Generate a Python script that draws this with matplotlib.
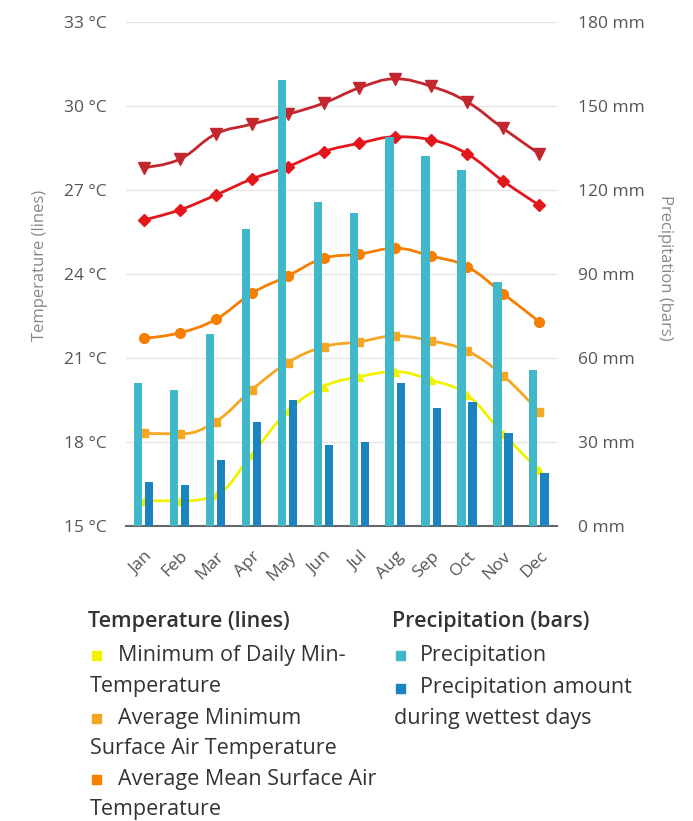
import matplotlib
matplotlib.use("Agg")
import matplotlib.pyplot as plt
from matplotlib.path import Path
from matplotlib.patches import PathPatch, Rectangle

plt.rcParams['font.family'] = ['Open Sans', 'DejaVu Sans']

months = ["Jan", "Feb", "Mar", "Apr", "May", "Jun", "Jul", "Aug", "Sep", "Oct", "Nov", "Dec"]

# temperature series (deg C)
temp_max_daily_max = [27.8, 28.1, 29.0, 29.35, 29.7, 30.1, 30.65, 30.97, 30.7, 30.15, 29.2, 28.3]
temp_avg_max = [25.93, 26.29, 26.82, 27.39, 27.83, 28.37, 28.67, 28.9, 28.79, 28.29, 27.32, 26.46]
temp_avg_mean = [21.7, 21.9, 22.38, 23.31, 23.93, 24.56, 24.71, 24.92, 24.64, 24.26, 23.3, 22.3]
temp_avg_min = [18.31, 18.29, 18.73, 19.86, 20.83, 21.4, 21.58, 21.79, 21.61, 21.25, 20.37, 19.08]
temp_min_daily_min = [15.9, 15.9, 16.1, 17.55, 19.1, 19.98, 20.33, 20.51, 20.21, 19.68, 18.28, 17.0]

# precipitation series (mm)
precip = [51.2, 48.6, 68.6, 106.2, 159.3, 115.6, 111.7, 139.0, 132.2, 127.1, 87.2, 55.7]
precip_wettest = [15.8, 14.6, 23.6, 37.3, 45.0, 28.9, 30.1, 51.0, 42.0, 44.4, 33.1, 18.8]

temp_ticks = [15, 18, 21, 24, 27, 30, 33]
precip_ticks = [0, 30, 60, 90, 120, 150, 180]


def spline_path(xs, ys, smoothing=1.5):
    # Highcharts style spline through the points
    n = len(xs)
    denom = smoothing + 1
    lc = [None] * n
    rc = [None] * n
    for i in range(1, n - 1):
        px, py = xs[i], ys[i]
        lx, ly = xs[i - 1], ys[i - 1]
        nx, ny = xs[i + 1], ys[i + 1]
        lcx = (smoothing * px + lx) / denom
        lcy = (smoothing * py + ly) / denom
        rcx = (smoothing * px + nx) / denom
        rcy = (smoothing * py + ny) / denom
        corr = ((rcy - lcy) * (rcx - px)) / (rcx - lcx) + py - rcy
        lcy += corr
        rcy += corr
        if lcy > ly and lcy > py:
            lcy = max(ly, py)
            rcy = 2 * py - lcy
        elif lcy < ly and lcy < py:
            lcy = min(ly, py)
            rcy = 2 * py - lcy
        if rcy > ny and rcy > py:
            rcy = max(ny, py)
            lcy = 2 * py - rcy
        elif rcy < ny and rcy < py:
            rcy = min(ny, py)
            lcy = 2 * py - rcy
        lc[i] = (lcx, lcy)
        rc[i] = (rcx, rcy)
    verts = [(xs[0], ys[0])]
    codes = [Path.MOVETO]
    for i in range(1, n):
        c1 = rc[i - 1] if rc[i - 1] else (xs[i - 1], ys[i - 1])
        c2 = lc[i] if lc[i] else (xs[i], ys[i])
        verts += [c1, c2, (xs[i], ys[i])]
        codes += [Path.CURVE4] * 3
    return Path(verts, codes)


W, H = 693, 821
fig = plt.figure(figsize=(W / 100, H / 100), dpi=100)
left, right, top, bottom = 126, 557, 22, 526
ax = fig.add_axes([left / W, 1 - bottom / H, (right - left) / W, (bottom - top) / H])
axp = ax.twinx()
# bars sit on top of the lines
ax.set_zorder(1)
axp.set_zorder(2)
axp.patch.set_visible(False)

x = list(range(12))

# lines (temperature)
series = [
    (temp_min_daily_min, "#f2f200", "^", 6),
    (temp_avg_min, "#f5a623", "s", 6),
    (temp_avg_mean, "#f77f00", "o", 7),
    (temp_avg_max, "#e3161c", "D", 6),
    (temp_max_daily_max, "#c4262e", "v", 8),
]
for vals, col, mk, ms in series:
    ax.add_patch(PathPatch(spline_path(x, vals), fill=False, edgecolor=col, lw=2, zorder=4))
    ax.plot(x, vals, ls="none", marker=mk, ms=ms, color=col, zorder=5)

ax.set_ylim(15, 33)
ax.set_yticks(temp_ticks)
ax.set_yticklabels([f"{t} °C" for t in temp_ticks])
ax.grid(axis="y", color="#e6e6e6", lw=1, zorder=0)
ax.set_axisbelow(True)
ax.set_xlim(-0.5, 11.5)
ax.set_xticks(x)
ax.set_xticklabels(months, rotation=45, ha="right", va="top", rotation_mode="anchor")

# bars (precipitation)
bw = 0.23
axp.bar([i - 0.16 for i in x], precip, width=bw, color="#40b8c9", zorder=3)
axp.bar([i + 0.15 for i in x], precip_wettest, width=bw, color="#1a83c0", zorder=3)
axp.set_ylim(0, 180)
axp.set_yticks(precip_ticks)
axp.set_yticklabels([f"{t} mm" for t in precip_ticks])

for a in (ax, axp):
    for s in a.spines.values():
        s.set_visible(False)
    a.tick_params(length=0, labelsize=12.5, colors="#555555")
ax.tick_params(axis="y", pad=14)
axp.tick_params(axis="y", pad=15)
ax.tick_params(axis="x", pad=16)
axp.spines["bottom"].set_visible(True)
axp.spines["bottom"].set_color("#666666")
axp.spines["bottom"].set_linewidth(1.5)

fig.text(40 / W, 1 - 265 / H, "Temperature (lines)", rotation=90, ha="center", va="center",
         fontsize=12, color="#888888")
fig.text(665 / W, 1 - 268 / H, "Precipitation (bars)", rotation=270, ha="center", va="center",
         fontsize=12, color="#888888")

# legend
def ftext(px, py, s, **kw):
    fig.text(px / W, 1 - py / H, s, va="center", ha="left", fontsize=15.5, color="#333333", **kw)

def fsquare(px, py, col, size=9):
    fig.add_artist(Rectangle((px / W, 1 - (py + size / 2) / H), size / W, size / H,
                             transform=fig.transFigure, color=col))

ftext(88, 622, "Temperature (lines)", fontweight="semibold")
fsquare(92, 655, "#f2f200")
ftext(118, 655, "Minimum of Daily Min-")
ftext(90, 686, "Temperature")
fsquare(92, 718, "#f5a623")
ftext(118, 718, "Average Minimum")
ftext(90, 748, "Surface Air Temperature")
fsquare(92, 779, "#f77f00")
ftext(118, 779, "Average Mean Surface Air")
ftext(90, 809, "Temperature")

ftext(392, 622, "Precipitation (bars)", fontweight="semibold")
fsquare(396, 655, "#40b8c9")
ftext(420, 655, "Precipitation")
fsquare(396, 688, "#1a83c0")
ftext(420, 688, "Precipitation amount")
ftext(394, 718, "during wettest days")

fig.savefig("out.png", dpi=100)
